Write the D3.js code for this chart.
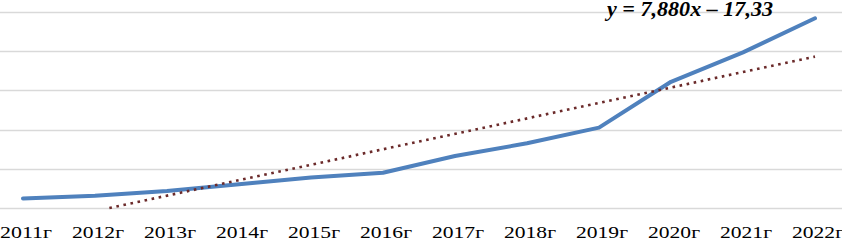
<!DOCTYPE html>
<html>
<head>
<meta charset="utf-8">
<script src="https://cdn.jsdelivr.net/npm/d3@7"></script>
<style>
  body { margin: 0; background: #fff; }
  svg { display: block; }
  text { font-family: "Liberation Serif", "Times New Roman", serif; }
</style>
</head>
<body>
<svg id="chart"></svg>
<script>
// values
var years = ["2011г", "2012г", "2013г", "2014г", "2015г", "2016г",
             "2017г", "2018г", "2019г", "2020г", "2021г", "2022г"];
var values = [4.9, 6.3, 8.7, 12.1, 15.6, 18.0, 26.5, 33.0, 41.0, 64.4, 79.4, 96.8];
var yTicks = [0, 20, 40, 60, 80, 100];
// linear trend shown on the chart: y = 7,880x - 17,33 (x = 1..12)
var trendSlope = 7.880;
var trendIntercept = -17.33;
var trendLabel = "y = 7,880x – 17,33";

var width = 842, height = 241;

var svg = d3.select("#chart")
    .attr("width", width)
    .attr("height", height);

var x = d3.scalePoint()
    .domain(years)
    .range([23, 815]);

var y = d3.scaleLinear()
    .domain([0, 100])
    .range([208, 12]);

// gridlines
svg.append("g")
    .selectAll("line")
    .data(yTicks)
    .enter().append("line")
    .attr("x1", 0)
    .attr("x2", width)
    .attr("y1", function (d) { return Math.round(y(d)) + 0.5; })
    .attr("y2", function (d) { return Math.round(y(d)) + 0.5; })
    .attr("stroke", "#d9d9d9")
    .attr("stroke-width", 1.5);

// category labels (slightly stretched, as in the picture)
svg.append("g")
    .selectAll("text")
    .data(years)
    .enter().append("text")
    .attr("x", function (d) { return x(d) + 3; })
    .attr("y", 237.5)
    .attr("text-anchor", "middle")
    .attr("textLength", 52)
    .attr("lengthAdjust", "spacingAndGlyphs")
    .style("font-size", "17.5px")
    .attr("fill", "#000")
    .text(function (d) { return d; });

// data line
var line = d3.line()
    .x(function (d, i) { return x(years[i]); })
    .y(function (d) { return y(d); });

svg.append("path")
    .datum(values)
    .attr("d", line)
    .attr("fill", "none")
    .attr("stroke", "#4f81bd")
    .attr("stroke-width", 4)
    .attr("stroke-linejoin", "round")
    .attr("stroke-linecap", "round");

// trend line, clipped at the axis minimum
var step = x.step();
var xStart = -trendIntercept / trendSlope;   // where trend crosses 0
var trendPts = [
    [x(years[0]) + (xStart - 1) * step, 0],
    [x(years[years.length - 1]), trendSlope * years.length + trendIntercept]
];

svg.append("path")
    .attr("d", d3.line()
        .x(function (d) { return d[0]; })
        .y(function (d) { return y(d[1]); })(trendPts))
    .attr("fill", "none")
    .attr("stroke", "#6b2a2a")
    .attr("stroke-width", 2.6)
    .attr("stroke-dasharray", "2.6 4.6");

// equation
svg.append("text")
    .attr("x", 607)
    .attr("y", 16)
    .attr("textLength", 166)
    .attr("lengthAdjust", "spacingAndGlyphs")
    .style("font-size", "21px")
    .style("font-weight", "bold")
    .style("font-style", "italic")
    .attr("fill", "#000")
    .text(trendLabel);
</script>
</body>
</html>
